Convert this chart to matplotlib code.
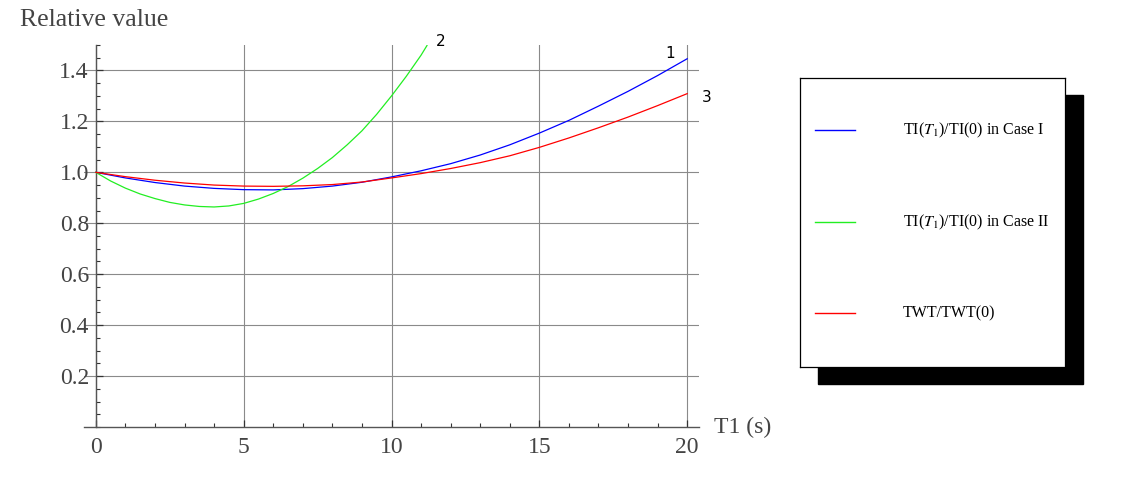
import matplotlib
matplotlib.use("Agg")
import matplotlib.pyplot as plt
import numpy as np
from matplotlib.pyplot import MultipleLocator
from matplotlib.patches import Rectangle

# 数据
t_main = [0, 1, 2, 3, 4, 5, 6, 7, 8, 9, 10, 11, 12, 13, 14, 15, 16, 17, 18, 19, 20]
case1 = [1.0, 0.978, 0.960, 0.946, 0.937, 0.932, 0.931, 0.936, 0.946, 0.961, 0.982,
         1.006, 1.034, 1.068, 1.108, 1.154, 1.204, 1.260, 1.318, 1.380, 1.446]
twt = [1.0, 0.983, 0.969, 0.958, 0.950, 0.946, 0.945, 0.947, 0.952, 0.962, 0.978,
       0.995, 1.015, 1.038, 1.065, 1.098, 1.135, 1.175, 1.217, 1.262, 1.309]
t_case2 = [0, 0.5, 1, 1.5, 2, 2.5, 3, 3.5, 4, 4.5, 5, 5.5, 6, 6.5, 7, 7.5, 8, 8.5, 9,
           9.5, 10, 10.5, 11, 11.2]
case2 = [1.0, 0.966, 0.938, 0.915, 0.897, 0.882, 0.872, 0.866, 0.864, 0.868, 0.878,
         0.895, 0.917, 0.944, 0.977, 1.015, 1.058, 1.108, 1.163, 1.228, 1.300,
         1.377, 1.460, 1.498]

labels = ['TI($T_1$)/TI(0) in Case I', 'TI($T_1$)/TI(0) in Case II', 'TWT/TWT(0)']
colors = ['#0000ff', '#22ee22', '#ff0000']
curve_tags = ['1', '2', '3']

plt.rcParams['mathtext.fontset'] = 'stix'
serif = 'Liberation Serif'
tick_color = '#444444'

fig = plt.figure(figsize=(11.27, 4.83), dpi=100)
ax = fig.add_axes([84 / 1127, 1 - 427 / 483, 615 / 1127, 382 / 483])

series = [(t_main, case1), (t_case2, case2), (t_main, twt)]
for (xs, ys), c in zip(series, colors):
    ax.plot(xs, ys, color=c, lw=0.9, zorder=3)

ax.set_xlim(-0.4, 20.4)
ax.set_ylim(0, 1.5)

# Mathematica 风格坐标轴
for s in ['top', 'right']:
    ax.spines[s].set_visible(False)
ax.spines['left'].set_position(('data', 0))
ax.spines['left'].set_bounds(0, 1.5)
for s in ['left', 'bottom']:
    ax.spines[s].set_color('#555555')
    ax.spines[s].set_linewidth(1.0)

ax.xaxis.set_minor_locator(MultipleLocator(1))
ax.yaxis.set_minor_locator(MultipleLocator(0.05))
ax.set_xticks([0, 5, 10, 15, 20])
ax.set_yticks([0.2, 0.4, 0.6, 0.8, 1.0, 1.2, 1.4])
ax.tick_params(which='major', direction='in', length=5, width=0.9, color='#333333',
               labelsize=17, labelcolor=tick_color)
ax.tick_params(which='minor', direction='in', length=3, width=0.8, color='#333333')
ax.tick_params(axis='x', which='major', pad=7)
ax.tick_params(axis='y', which='major', pad=5)
for lab in ax.get_xticklabels() + ax.get_yticklabels():
    lab.set_family(serif)

ax.grid(True, which='major', color='#8a8a8a', lw=0.8, zorder=0)

# 曲线编号
offsets = [(-12, 4), (10, 3), (14, -3)]
ends = [(t_main[-1], case1[-1]), (t_case2[-1], case2[-1]), (t_main[-1], twt[-1])]
for tag, (ex, ey), off in zip(curve_tags, ends, offsets):
    ax.annotate(tag, xy=(ex, ey), xytext=off, textcoords='offset points',
                fontsize=11, family='DejaVu Sans', ha='center', va='center',
                annotation_clip=False)

fig.text(20 / 1127, 1 - 20 / 483, 'Relative value', family=serif, fontsize=18.5,
         color=tick_color, ha='left', va='center')
fig.text(714 / 1127, 1 - 427 / 483, 'T1 (s)', family=serif, fontsize=17,
         color=tick_color, ha='left', va='center')

# 图例 (带黑色阴影)
bx, by, bw, bh = 800 / 1127, 1 - 367 / 483, 265 / 1127, 289 / 483
fig.patches.append(Rectangle((bx + 18 / 1127, by - 17 / 483), bw, bh,
                             transform=fig.transFigure, facecolor='black',
                             edgecolor='black', zorder=1))
lax = fig.add_axes([bx, by, bw, bh], zorder=2)
lax.set_xlim(0, 265)
lax.set_ylim(289, 0)
lax.set_xticks([])
lax.set_yticks([])
for s in lax.spines.values():
    s.set_linewidth(0.9)
rows = [52, 144, 235]
for y, c, lab in zip(rows, colors, labels):
    lax.plot([15, 55], [y, y], color=c, lw=1.0)
    lax.text(103, y, lab, family=serif, fontsize=11.5, ha='left', va='center')

fig.savefig('out.png', dpi=100)
